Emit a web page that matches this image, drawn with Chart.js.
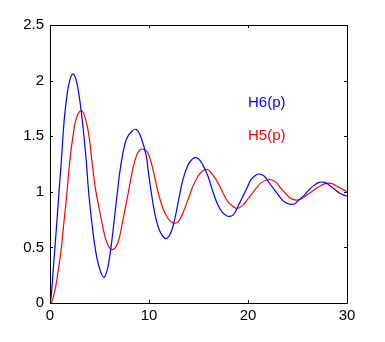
<!DOCTYPE html>
<html>
<head>
<meta charset="utf-8">
<script src="https://cdn.jsdelivr.net/npm/chart.js@4"></script>
<style>
    html, body { margin: 0; padding: 0; background: #fff; }
    #wrap { width: 385px; height: 342px; }
</style>
</head>
<body>
<div id="wrap"><canvas id="grafico" width="385" height="342"></canvas></div>
<script>
// H6(p) step response
let h6Tiempo = [0, 0.13, 0.3, 0.54, 0.74, 0.91, 1.14, 1.31, 1.48, 1.72, 1.99, 2.32, 2.66, 2.93, 3.16, 3.43, 3.67, 3.9, 4.18, 4.44, 4.75, 5.12, 5.45, 5.79, 6.03, 6.26, 6.53, 6.8, 7.04, 7.37, 7.71, 8.22, 8.72, 9.23, 9.73, 9.9, 10.24, 10.57, 10.91, 11.31, 11.75, 12.19, 12.59, 13.0, 13.43, 13.94, 14.44, 14.95, 15.45, 15.96, 16.46, 16.97, 17.47, 17.98, 18.48, 18.99, 19.49, 19.93, 20.3, 20.81, 21.14, 21.65, 22.15, 22.66, 23.16, 23.67, 24.17, 24.68, 25.18, 25.69, 26.19, 26.7, 27.2, 27.71, 28.21, 28.72, 29.22, 30]
let h6Valores = [0, 0.07, 0.27, 0.55, 0.79, 1.0, 1.27, 1.5, 1.69, 1.87, 2.0, 2.06, 2.0, 1.87, 1.72, 1.5, 1.27, 1.0, 0.76, 0.57, 0.4, 0.28, 0.23, 0.3, 0.42, 0.57, 0.78, 0.99, 1.17, 1.35, 1.47, 1.54, 1.56, 1.48, 1.32, 1.2, 0.99, 0.81, 0.69, 0.61, 0.58, 0.63, 0.75, 0.93, 1.11, 1.24, 1.3, 1.3, 1.24, 1.14, 1.0, 0.88, 0.81, 0.78, 0.79, 0.87, 0.96, 1.04, 1.11, 1.15, 1.16, 1.14, 1.08, 1.02, 0.96, 0.91, 0.89, 0.89, 0.93, 0.97, 1.02, 1.06, 1.085, 1.085, 1.06, 1.025, 0.99, 0.96]

// H5(p)
let h5Tiempo = [0, 0.13, 0.47, 0.81, 1.14, 1.41, 1.72, 1.99, 2.32, 2.66, 3.16, 3.57, 3.94, 4.24, 4.61, 4.9, 5.19, 5.52, 5.86, 6.26, 6.7, 7.04, 7.37, 7.71, 8.05, 8.38, 8.72, 9.13, 9.49, 9.9, 10.4, 10.91, 11.41, 11.92, 12.42, 12.93, 13.43, 13.94, 14.44, 14.95, 15.45, 15.89, 16.46, 16.97, 17.47, 17.98, 18.48, 18.92, 19.49, 19.93, 20.3, 20.81, 21.31, 21.89, 22.42, 22.89, 23.33, 23.84, 24.34, 24.85, 25.35, 25.86, 26.36, 26.87, 27.37, 27.88, 28.38, 28.89, 29.39, 30]
let h5Valores = [0, 0, 0.1, 0.28, 0.49, 0.73, 1.0, 1.27, 1.5, 1.66, 1.73, 1.66, 1.5, 1.27, 1.02, 0.88, 0.75, 0.61, 0.52, 0.48, 0.51, 0.6, 0.75, 0.9, 1.06, 1.21, 1.32, 1.38, 1.38, 1.35, 1.2, 1.0, 0.85, 0.76, 0.72, 0.73, 0.81, 0.93, 1.05, 1.14, 1.19, 1.2, 1.15, 1.08, 0.99, 0.91, 0.87, 0.85, 0.88, 0.93, 0.97, 1.03, 1.08, 1.106, 1.106, 1.08, 1.03, 0.98, 0.94, 0.926, 0.935, 0.965, 0.995, 1.03, 1.055, 1.076, 1.076, 1.055, 1.03, 1.0]

let xTicks = [0, 10, 20, 30]
let yTicks = [0, 0.5, 1, 1.5, 2, 2.5]

let etiquetas = ['H6(p)', 'H5(p)']
let etiquetasX = [20, 20]
let etiquetasY = [1.8, 1.5]
let colores = ['#0000ff', '#ff0000']

const fuente = { family: 'Liberation Sans, Arial, sans-serif', size: 15 }

function puntos(ts, vs) {
    return ts.map((t, i) => ({ x: t, y: vs[i] }))
}

// box with inward ticks, matlab style
const caja = {
    id: 'caja',
    afterDraw(chart) {
        const ctx = chart.ctx
        const a = chart.chartArea
        const sx = chart.scales.x
        const sy = chart.scales.y
        ctx.save()
        ctx.strokeStyle = '#000'
        ctx.lineWidth = 1
        ctx.beginPath()
        ctx.rect(a.left + 0.5, a.top + 0.5, a.right - a.left, a.bottom - a.top)
        xTicks.forEach(v => {
            let px = Math.round(sx.getPixelForValue(v)) + 0.5
            ctx.moveTo(px, a.bottom); ctx.lineTo(px, a.bottom - 3)
            ctx.moveTo(px, a.top); ctx.lineTo(px, a.top + 3)
        })
        yTicks.forEach(v => {
            let py = Math.round(sy.getPixelForValue(v)) + 0.5
            ctx.moveTo(a.left, py); ctx.lineTo(a.left + 3, py)
            ctx.moveTo(a.right, py); ctx.lineTo(a.right - 3, py)
        })
        ctx.stroke()
        ctx.restore()
    }
}

const textos = {
    id: 'textos',
    afterDatasetsDraw(chart) {
        const ctx = chart.ctx
        ctx.save()
        ctx.font = fuente.size + 'px ' + fuente.family
        ctx.textAlign = 'left'
        ctx.textBaseline = 'middle'
        for (let i = 0; i < etiquetas.length; i++) {
            ctx.fillStyle = colores[i]
            ctx.fillText(etiquetas[i], chart.scales.x.getPixelForValue(etiquetasX[i]), chart.scales.y.getPixelForValue(etiquetasY[i]))
        }
        ctx.restore()
    }
}

const grafico = new Chart(document.getElementById('grafico'), {
    type: 'line',
    data: {
        datasets: [
            { label: etiquetas[0], data: puntos(h6Tiempo, h6Valores), borderColor: colores[0] },
            { label: etiquetas[1], data: puntos(h5Tiempo, h5Valores), borderColor: colores[1] }
        ]
    },
    options: {
        responsive: false,
        animation: false,
        layout: { padding: { top: 25, right: 38, left: 0, bottom: 0 } },
        elements: {
            point: { radius: 0 },
            line: { borderWidth: 1.2, tension: 0.4, fill: false }
        },
        plugins: { legend: { display: false }, tooltip: { enabled: false } },
        scales: {
            x: {
                type: 'linear', min: 0, max: 30,
                grid: { display: false, drawTicks: false },
                border: { display: false },
                ticks: { stepSize: 10, color: '#000', font: fuente, padding: 4 },
                afterFit: s => { s.height = 39 }
            },
            y: {
                min: 0, max: 2.5,
                grid: { display: false, drawTicks: false },
                border: { display: false },
                ticks: { stepSize: 0.5, color: '#000', font: fuente, padding: 6, callback: v => String(v) },
                afterFit: s => { s.width = 50 }
            }
        }
    },
    plugins: [caja, textos]
})
</script>
</body>
</html>
